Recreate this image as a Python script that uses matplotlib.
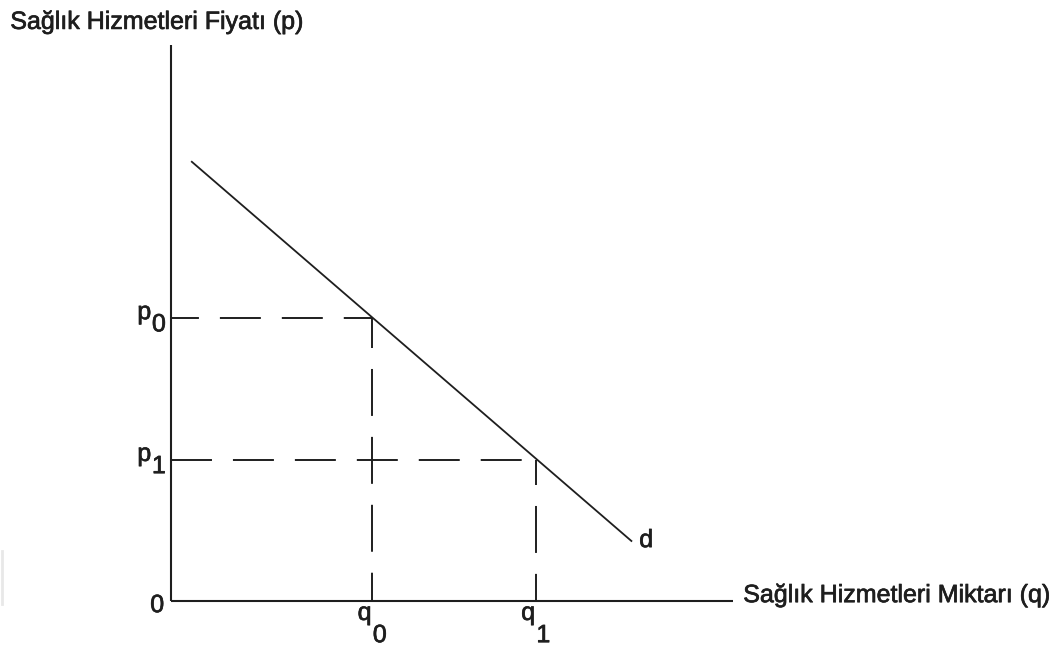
import matplotlib
matplotlib.use("Agg")
import matplotlib.pyplot as plt
import matplotlib.patheffects as pe

plt.rcParams["font.family"] = ["Liberation Sans", "DejaVu Sans"]
plt.rcParams["lines.scale_dashes"] = False

# Demand curve and the two price/quantity points on it (arbitrary units)
demand_q = [0.37, 8.19]
demand_p = [7.90, 1.08]
q_vals = [3.58, 6.49]
p_vals = [5.09, 2.54]
q_labels = ["q", "q"]
p_labels = ["p", "p"]
subs = ["0", "1"]
axis_len_q = 10.0
axis_len_p = 10.0

INK = "#1e1e1e"
# dash phase for each guide (points), horizontal and vertical
h_offsets = [9.4, 0.0]
v_offsets = [12.2, 15.8]

fig = plt.figure(figsize=(10.58, 6.46), dpi=100)
ax = fig.add_axes([0, 0, 1, 1])
ax.set_xlim(-3.043, 15.78)
ax.set_ylim(-0.809, 10.81)
ax.axis("off")

# axes of the diagram
ax.plot([0, axis_len_q], [0, 0], color=INK, lw=1.5, solid_capstyle="butt")
ax.plot([0, 0], [0, axis_len_p], color=INK, lw=1.5, solid_capstyle="butt")

# demand line
ax.plot(demand_q, demand_p, color=INK, lw=1.3)

# dashed guides from each point to the axes
for q, p, ho, vo in zip(q_vals, p_vals, h_offsets, v_offsets):
    ax.plot([0, q], [p, p], color=INK, lw=1.4, linestyle=(ho, (29.5, 15.1)))
    ax.plot([q, q], [p, 0], color=INK, lw=1.4, linestyle=(vo, (33.8, 15.1)))

fs = 18
txt = dict(fontsize=fs, color=INK, ha="left", va="baseline",
           path_effects=[pe.withStroke(linewidth=0.5, foreground=INK)])

for p, lab, s in zip(p_vals, p_labels, subs):
    ax.text(-0.60, p - 0.02, lab, **txt)
    ax.text(-0.34, p - 0.24, s, **txt)

for q, lab, s in zip(q_vals, q_labels, subs):
    ax.text(q - 0.26, -0.34, lab, **txt)
    ax.text(q + 0.01, -0.74, s, **txt)

ax.text(-0.37, -0.20, "0", **txt)
ax.text(demand_q[1] + 0.14, demand_p[1] - 0.11, "d", **txt)

ax.text(axis_len_q + 0.18, -0.02, "Sağlık Hizmetleri Miktarı (q)", **txt)
ax.text(-2.86, 10.29, "Sağlık Hizmetleri Fiyatı (p)", **txt)

# faint scan mark on the left edge
ax.plot([-3.01, -3.01], [-0.05, 0.9], color="#e8e8e8", lw=2)

fig.savefig("out.png", dpi=100)
